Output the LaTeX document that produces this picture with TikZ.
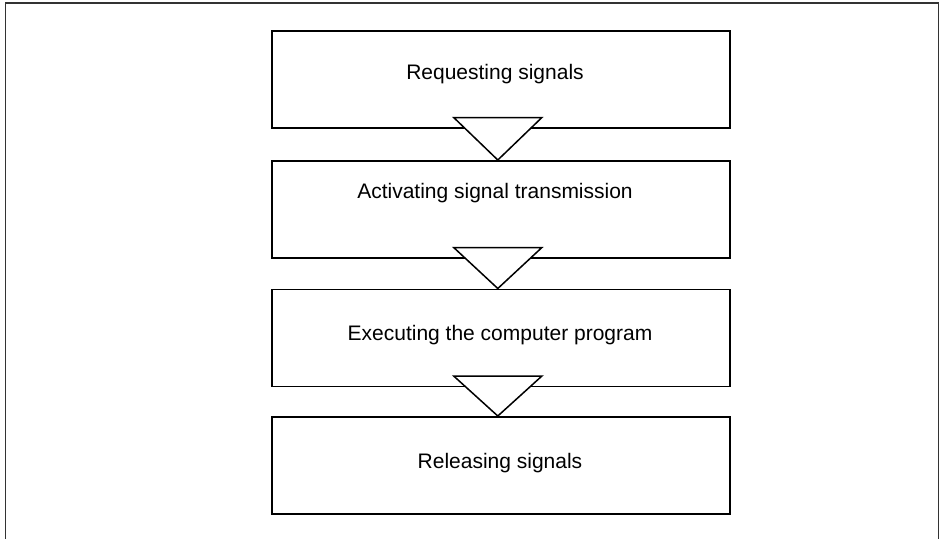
\documentclass[tikz,border=0pt]{standalone}
\usepackage{fontspec}
\setmainfont{Liberation Sans}
\usetikzlibrary{calc}
\begin{document}
\begin{tikzpicture}[x=1pt,y=-1pt,
  stepbox/.style={draw=black,line width=1.6pt,rectangle,minimum width=458pt,minimum height=97pt,inner sep=0pt,anchor=north west},
  steptext/.style={font=\fontsize{21}{25}\selectfont,inner sep=0pt},
  flowtri/.style={draw=black,fill=white,line width=1.5pt,line join=miter},
  frameline/.style={draw=black!80,line width=1.6pt}]
  \useasboundingbox (0,0) rectangle (941,538);
  % open frame round the flow
  \coordinate (fbl) at (5.5,540);
  \coordinate (ftl) at (5.5,3);
  \coordinate (ftr) at (938.5,3);
  \coordinate (fbr) at (938.5,540);
  \draw[frameline] (fbl) -- (ftl) -- (ftr) -- (fbr);
  % the four steps
  \node[stepbox] (b1) at (271,30) {};
  \node[stepbox] (b2) at (271,160) {};
  \node[stepbox] (b3) at (271,288.5) {};
  \node[stepbox] (b4) at (271,416) {};
  \node[steptext] (t1) at (495,74) {Requesting signals};
  \node[steptext] (t2) at (495,193) {Activating signal transmission};
  \node[steptext] (t3) at (500,335) {Executing the computer program};
  \node[steptext] (t4) at (500,463) {Releasing signals};
  % downward triangles linking the steps
  \foreach \a/\b in {b1/b2,b2/b3,b3/b4}{
    \draw[flowtri] ($(\a.south)+(-47,-11)$) -- ($(\a.south)+(41,-11)$) -- ($(\b.north)+(-3,0)$) -- cycle;
  }
\end{tikzpicture}
\end{document}
